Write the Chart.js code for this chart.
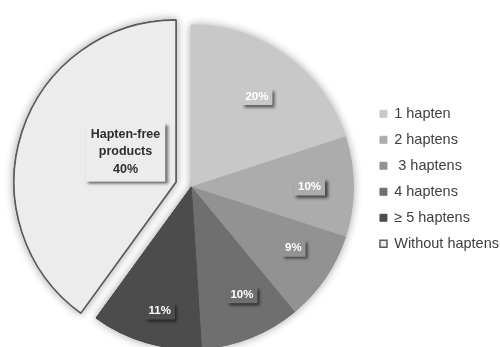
<!DOCTYPE html>
<html>
<head>
<meta charset="utf-8">
<script src="https://cdn.jsdelivr.net/npm/chart.js@4.4.0/dist/chart.umd.min.js"></script>
<style>
  html, body { margin: 0; padding: 0; background: #ffffff; }
  #wrap { width: 500px; height: 347px; }
</style>
</head>
<body>
<div id="wrap"><canvas id="pie" width="500" height="347"></canvas></div>
<script>
// Share of products by number of haptens they contain
const categories = ['1 hapten', '2 haptens', ' 3 haptens', '4 haptens', '\u2265 5 haptens', 'Without haptens'];
const shares = [20, 10, 9, 10, 11, 40];
const sliceLabels = ['20%', '10%', '9%', '10%', '11%', 'Hapten-free\nproducts\n40%'];

const fills = ['#c8c8c8', '#acacac', '#929292', '#6f6f6f', '#4c4c4c', '#ececec'];
const edges = ['#c8c8c8', '#acacac', '#929292', '#6f6f6f', '#4c4c4c', '#5a5a5a'];
const edgeWidths = [1, 1, 1, 1, 1, 1.5];
// pull-out distance of each slice, in pixels
const explode = [0, 0, 0, 0, 0, 16];

// where each value label sits: fraction of the radius and of the slice's sweep
const labelRadius = [0.69, 0.73, 0.735, 0.735, 0.79, 0.46];
const labelSweep = [0.5, 0.5, 0.4, 0.4, 0.45, 0.57];

function shiftFor(arc, i) {
  const mid = (arc.startAngle + arc.endAngle) / 2;
  return { dx: Math.cos(mid) * explode[i], dy: Math.sin(mid) * explode[i] };
}

function drawSlices(chart, withHalo) {
  const ctx = chart.ctx;
  const meta = chart.getDatasetMeta(0);
  meta.data.forEach((arc, i) => {
    const s = shiftFor(arc, i);
    ctx.save();
    if (withHalo) {
      ctx.shadowColor = 'rgba(0,0,0,0.35)';
      ctx.shadowBlur = 10;
      ctx.shadowOffsetX = 0;
      ctx.shadowOffsetY = 0;
    }
    ctx.translate(s.dx, s.dy);
    arc.draw(ctx);
    ctx.restore();
  });
}

// slices are drawn here: a blurred-shadow pass for the soft outer halo,
// then the plain pass on top; the pulled-out slice is moved along its bisector
const slicePlugin = {
  id: 'slices',
  beforeDatasetDraw(chart) {
    drawSlices(chart, true);
    drawSlices(chart, false);
    return false;
  }
};

// boxed value labels with a small drop shadow
const valueLabelPlugin = {
  id: 'valueLabels',
  afterDatasetsDraw(chart) {
    const ctx = chart.ctx;
    const meta = chart.getDatasetMeta(0);
    meta.data.forEach((arc, i) => {
      const p = arc.getProps(['x', 'y', 'startAngle', 'endAngle', 'outerRadius'], true);
      const a = p.startAngle + (p.endAngle - p.startAngle) * labelSweep[i];
      const r = p.outerRadius * labelRadius[i];
      const cx = p.x + Math.cos(a) * r;
      const cy = p.y + Math.sin(a) * r;
      const lines = sliceLabels[i].split('\n');
      const big = lines.length > 1;
      ctx.save();
      ctx.font = big ? 'bold 12.5px "Liberation Sans", Arial, sans-serif' : 'bold 11.5px "Liberation Sans", Arial, sans-serif';
      const lh = big ? 17.5 : 13;
      let w = 0;
      lines.forEach(t => { w = Math.max(w, ctx.measureText(t).width); });
      const bw = w + (big ? 10 : 8);
      const bh = lines.length * lh + (big ? 7 : 4);
      ctx.shadowColor = 'rgba(0,0,0,0.6)';
      ctx.shadowBlur = 3;
      ctx.shadowOffsetX = 2.5;
      ctx.shadowOffsetY = 2.5;
      ctx.fillStyle = fills[i];
      ctx.fillRect(cx - bw / 2, cy - bh / 2, bw, bh);
      ctx.shadowColor = 'transparent';
      ctx.fillStyle = big ? '#2e2e2e' : '#ffffff';
      ctx.textAlign = 'center';
      ctx.textBaseline = 'middle';
      lines.forEach((t, k) => {
        ctx.fillText(t, cx, cy - (lines.length - 1) * lh / 2 + k * lh);
      });
      ctx.restore();
    });
  }
};

new Chart(document.getElementById('pie'), {
  type: 'pie',
  data: {
    labels: categories,
    datasets: [{
      data: shares,
      backgroundColor: fills,
      borderColor: edges,
      borderWidth: edgeWidths,
      hoverOffset: 0
    }]
  },
  options: {
    responsive: false,
    devicePixelRatio: 1,
    animation: false,
    radius: 162,
    clip: false,
    layout: { padding: { left: 14, right: -9, top: 95, bottom: 68 } },
    plugins: {
      tooltip: { enabled: false },
      legend: {
        position: 'right',
        align: 'start',
        labels: {
          boxWidth: 7,
          boxHeight: 7,
          padding: 11.5,
          color: '#404040',
          font: { family: '"Liberation Sans", Arial, sans-serif', size: 14.5 }
        }
      }
    }
  },
  plugins: [slicePlugin, valueLabelPlugin]
});
</script>
</body>
</html>
